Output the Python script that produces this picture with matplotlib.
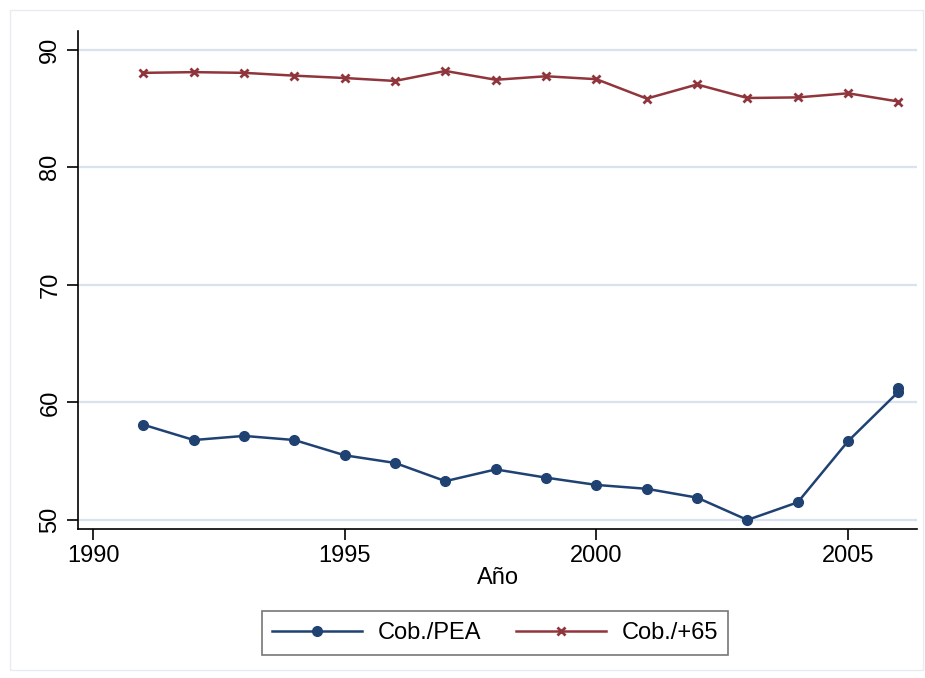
import matplotlib
matplotlib.use("Agg")
import matplotlib.pyplot as plt
from matplotlib.patches import Rectangle

plt.rcParams['font.family'] = ['Liberation Sans', 'DejaVu Sans']

years_pea = [1991, 1992, 1993, 1994, 1995, 1996, 1997, 1998, 1999, 2000,
             2001, 2002, 2003, 2004, 2005, 2006, 2006]
cob_pea = [58.1, 56.8, 57.15, 56.8, 55.5, 54.85, 53.3, 54.3, 53.6, 52.98,
           52.65, 51.9, 50.0, 51.5, 56.7, 60.9, 61.2]

years_65 = [1991, 1992, 1993, 1994, 1995, 1996, 1997, 1998, 1999, 2000,
            2001, 2002, 2003, 2004, 2005, 2006]
cob_65 = [88.04, 88.1, 88.04, 87.8, 87.6, 87.35, 88.2, 87.45, 87.75, 87.5,
          85.85, 87.05, 85.9, 85.95, 86.3, 85.6]

xticks = [1990, 1995, 2000, 2005]
yticks = [50, 60, 70, 80, 90]

navy = '#1f4273'
maroon = '#90353b'
grid = '#dae2ee'

fig = plt.figure(figsize=(9.25, 6.78), dpi=100)
fig.patch.set_facecolor('white')
fig.add_artist(Rectangle((10/925, 1 - 670/678), 913/925, 660/678,
                         transform=fig.transFigure, fill=False,
                         edgecolor='#e8ebf0', linewidth=1))

ax = fig.add_axes([78/925, 1 - 529/678, (917-78)/925, (529-31)/678])
ax.set_xlim(1989.7, 2006.37)
ax.set_ylim(49.23, 91.6)

for y in yticks:
    ax.axhline(y, color=grid, linewidth=1.6, zorder=0)

ax.plot(years_pea, cob_pea, color=navy, linewidth=1.8, marker='o',
        markersize=7, label='Cob./PEA', zorder=3)
ax.plot(years_65, cob_65, color=maroon, linewidth=1.8, marker='x',
        markersize=6, markeredgewidth=2, label='Cob./+65', zorder=3)

ax.set_xticks(xticks)
ax.set_yticks(yticks)
ax.tick_params(axis='both', direction='out', length=8, width=1.2,
               labelsize=17, colors='black')
ax.tick_params(axis='y', pad=4)
for lbl in ax.get_yticklabels():
    lbl.set_rotation(90)
    lbl.set_va('center')
for side in ['top', 'right']:
    ax.spines[side].set_visible(False)
for side in ['left', 'bottom']:
    ax.spines[side].set_linewidth(1.2)

ax.set_xlabel('Año', fontsize=17, labelpad=0)

leg = fig.legend(loc='center', bbox_to_anchor=(495/925, 1 - 633/678),
                 ncol=2, fontsize=17, frameon=True, fancybox=False,
                 edgecolor='#555555', handlelength=3.8, columnspacing=1.5,
                 handletextpad=0.65, borderpad=0.45)
leg.get_frame().set_linewidth(1.2)

fig.savefig('out.png', dpi=100, facecolor='white')
